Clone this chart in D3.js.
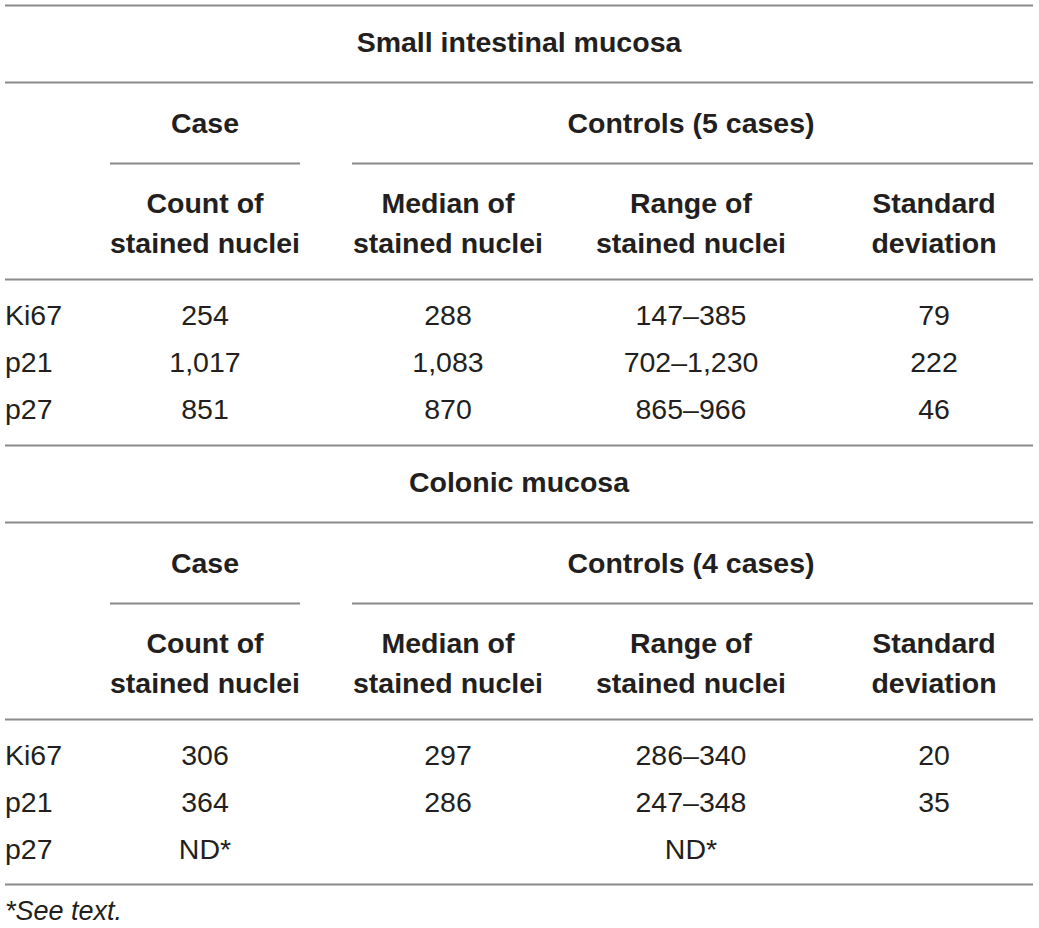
<!DOCTYPE html>
<html>
<head>
<meta charset="utf-8">
<script src="https://cdn.jsdelivr.net/npm/d3@7"></script>
<style>
  body { margin: 0; background: #fff; }
  svg text { font-family: "Liberation Sans", Arial, Helvetica, sans-serif; fill: #231f20; }
</style>
</head>
<body>
<div id="chart"></div>
<script>
const markers = ['Ki67', 'p21', 'p27'];
const columns = ['case', 'median', 'range', 'sd'];
const colHeaders = [['Count of', 'stained nuclei'], ['Median of', 'stained nuclei'], ['Range of', 'stained nuclei'], ['Standard', 'deviation']];

const smallTitle = 'Small intestinal mucosa';
const smallControls = 'Controls (5 cases)';
const smallCase = ['254', '1,017', '851'];
const smallMedian = ['288', '1,083', '870'];
const smallRange = ['147–385', '702–1,230', '865–966'];
const smallSd = ['79', '222', '46'];

const colonTitle = 'Colonic mucosa';
const colonControls = 'Controls (4 cases)';
const colonCase = ['306', '364', 'ND*'];
const colonMedian = ['297', '286', ''];
const colonRange = ['286–340', '247–348', 'ND*'];
const colonSd = ['20', '35', ''];

const footnote = '*See text.';

const width = 1039, height = 928;
const left = 5, right = 1033;
const lineColor = '#8a8a8a';

const svg = d3.select('#chart').append('svg')
  .attr('width', width)
  .attr('height', height);

// column centers
const x = d3.scalePoint().domain(columns).range([205, 934]);
// row baselines within a block
const y = d3.scalePoint().domain(markers).range([325, 419]);

function hline(g, x1, x2, yy) {
  g.append('line')
    .attr('x1', x1).attr('x2', x2)
    .attr('y1', yy).attr('y2', yy)
    .attr('stroke', lineColor)
    .attr('stroke-width', 2);
}

function block(offset, title, controls, values) {
  const g = svg.append('g').attr('transform', `translate(0,${offset})`);

  hline(g, left, right, 5.5);
  g.append('text')
    .attr('x', (left + right) / 2).attr('y', 52)
    .attr('text-anchor', 'middle')
    .attr('font-size', 28.5).attr('font-weight', 'bold')
    .text(title);
  hline(g, left, right, 82.5);

  g.append('text')
    .attr('x', x('case')).attr('y', 133)
    .attr('text-anchor', 'middle')
    .attr('font-size', 28.5).attr('font-weight', 'bold')
    .text('Case');
  g.append('text')
    .attr('x', x('range')).attr('y', 133)
    .attr('text-anchor', 'middle')
    .attr('font-size', 28.5).attr('font-weight', 'bold')
    .text(controls);
  hline(g, 110, 300, 163.5);
  hline(g, 352, right, 163.5);

  columns.forEach((c, i) => {
    const t = g.append('text')
      .attr('text-anchor', 'middle')
      .attr('font-size', 28.5).attr('font-weight', 'bold');
    colHeaders[i].forEach((line, j) => {
      t.append('tspan').attr('x', x(c)).attr('y', 213 + j * 40).text(line);
    });
  });
  hline(g, left, right, 279.5);

  markers.forEach((m, r) => {
    g.append('text')
      .attr('x', left).attr('y', y(m))
      .attr('font-size', 28.5)
      .text(m);
    columns.forEach((c, i) => {
      g.append('text')
        .attr('x', x(c)).attr('y', y(m))
        .attr('text-anchor', 'middle')
        .attr('font-size', 28.5)
        .text(values[i][r]);
    });
  });
}

block(0, smallTitle, smallControls, [smallCase, smallMedian, smallRange, smallSd]);
block(440, colonTitle, colonControls, [colonCase, colonMedian, colonRange, colonSd]);

hline(svg, left, right, 884.5);
svg.append('text')
  .attr('x', left).attr('y', 920)
  .attr('font-size', 27)
  .attr('font-style', 'italic')
  .text(footnote);
</script>
</body>
</html>
